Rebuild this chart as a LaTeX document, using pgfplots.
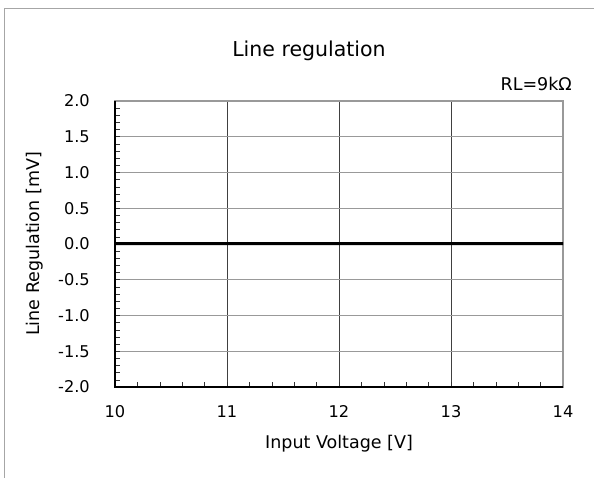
\documentclass[border=0pt]{standalone}
\usepackage{fontspec}
\setmainfont{DejaVu Sans}
\usepackage{pgfplots}
\pgfplotsset{compat=1.18}
\begin{document}
\begin{tikzpicture}[x=1pt,y=1pt]
\useasboundingbox (0,0) rectangle (594,477);
\draw[black!35, line width=1pt] (4,-5) -- (4,468) -- (600,468);
\begin{axis}[
  at={(115pt,90pt)}, anchor=south west,
  scale only axis, width=448pt, height=286pt,
  xmin=10, xmax=14, ymin=-2, ymax=2,
  xtick={10,11,12,13,14},
  ytick={-2,-1.5,-1,-0.5,0,0.5,1,1.5,2},
  minor x tick num=4, minor y tick num=4,
  tick pos=left, tick align=inside,
  major tick length=5pt, minor tick length=5pt,
  tick style={black!80, line width=0.6pt},
  xmajorgrids, ymajorgrids,
  x grid style={black!75, line width=0.8pt},
  y grid style={black!40, line width=0.8pt},
  axis line style={black!40, line width=1.6pt},
  /pgf/number format/assume math mode=true,
  tick label style={font=\fontsize{16.2}{19}\selectfont},
  yticklabel style={/pgf/number format/.cd, fixed, fixed zerofill, precision=1, /tikz/.cd, anchor=east, inner sep=0pt, xshift=-25pt},
  xticklabel style={anchor=north, inner sep=0pt, yshift=-18pt},
  clip=false,
]
\addplot[black, line width=3pt] coordinates {
(10,0.004) (10.2,0.006) (10.4,0.005) (10.6,0.004) (10.8,0.006) (11,0.005)
(11.2,0.004) (11.4,0.006) (11.6,0.005) (11.8,0.006) (12,0.004) (12.2,0.005)
(12.4,0.006) (12.6,0.005) (12.8,0.004) (13,0.005) (13.2,0.006) (13.4,0.004)
(13.6,0.006) (13.8,0.005) (14,0.004)};
\draw[black, line width=1.6pt] (rel axis cs:0,1) -- (rel axis cs:0,0) -- (rel axis cs:1,0);
\end{axis}
\node[font=\fontsize{20.5}{24}\selectfont] at (309,426) {Line regulation};
\node[font=\fontsize{17.5}{21}\selectfont, anchor=east, inner sep=0pt] at (572,393) {RL=9kΩ};
\node[font=\fontsize{17.5}{21}\selectfont] at (339,33) {Input Voltage [V]};
\node[font=\fontsize{17.5}{21}\selectfont, rotate=90] at (35,233) {Line Regulation [mV]};
\end{tikzpicture}
\end{document}
